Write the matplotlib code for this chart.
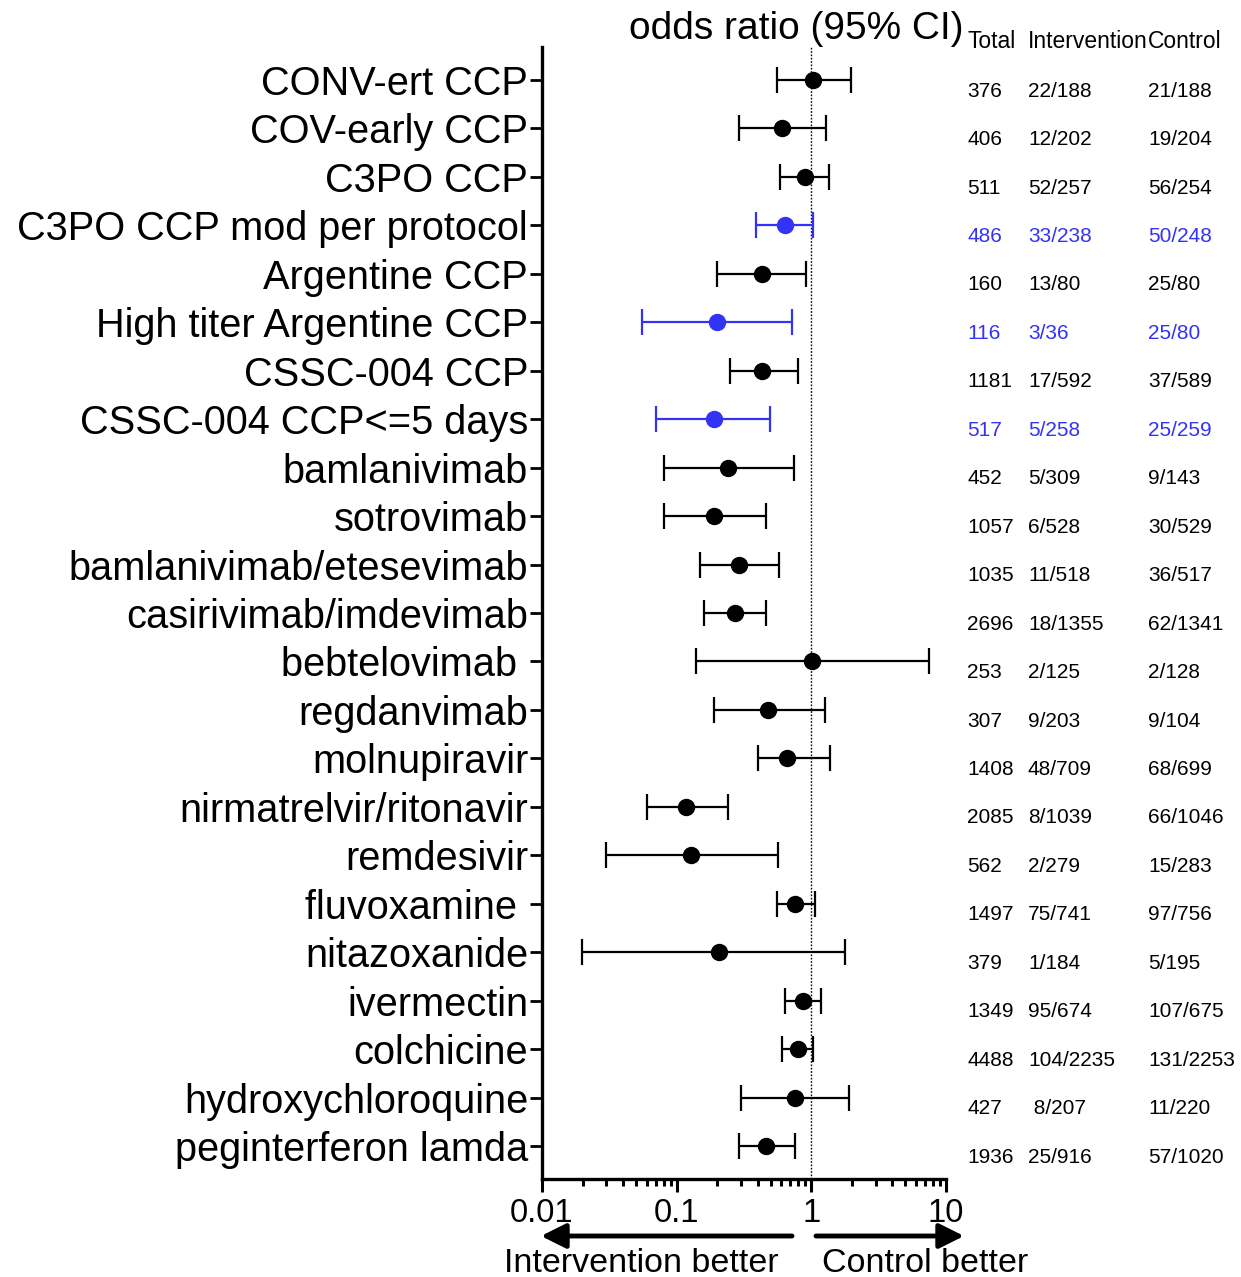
import matplotlib
matplotlib.use("Agg")
import matplotlib.pyplot as plt
import matplotlib.transforms as mtransforms
from matplotlib.ticker import LogLocator, NullFormatter, FixedLocator, FixedFormatter

plt.rcParams['font.family'] = ['Liberation Sans', 'DejaVu Sans']

labels = ["CONV-ert CCP", "COV-early CCP", "C3PO CCP", "C3PO CCP mod per protocol",
          "Argentine CCP", "High titer Argentine CCP", "CSSC-004 CCP", "CSSC-004 CCP<=5 days",
          "bamlanivimab", "sotrovimab", "bamlanivimab/etesevimab", "casirivimab/imdevimab",
          "bebtelovimab ", "regdanvimab", "molnupiravir", "nirmatrelvir/ritonavir",
          "remdesivir", "fluvoxamine ", "nitazoxanide", "ivermectin", "colchicine",
          "hydroxychloroquine", "peginterferon lamda"]
odds = [1.03, 0.61, 0.89, 0.64, 0.43, 0.198, 0.43, 0.188, 0.24, 0.19, 0.29, 0.27,
        1.02, 0.48, 0.66, 0.118, 0.127, 0.76, 0.205, 0.86, 0.79, 0.75, 0.46]
ci_low = [0.56, 0.29, 0.59, 0.385, 0.20, 0.055, 0.247, 0.070, 0.080, 0.080, 0.148, 0.16,
          0.138, 0.188, 0.40, 0.060, 0.030, 0.56, 0.0198, 0.64, 0.61, 0.30, 0.29]
ci_high = [1.98, 1.29, 1.36, 1.03, 0.92, 0.72, 0.79, 0.49, 0.74, 0.46, 0.58, 0.46,
           7.5, 1.27, 1.38, 0.24, 0.57, 1.07, 1.78, 1.17, 1.03, 1.91, 0.76]
totals = ["376", "406", "511", "486", "160", "116", "1181", "517", "452", "1057", "1035",
          "2696", "253", "307", "1408", "2085", "562", "1497", "379", "1349", "4488", "427", "1936"]
intervention = ["22/188", "12/202", "52/257", "33/238", "13/80", "3/36", "17/592", "5/258",
                "5/309", "6/528", "11/518", "18/1355", "2/125", "9/203", "48/709", "8/1039",
                "2/279", "75/741", "1/184", "95/674", "104/2235", " 8/207", "25/916"]
control = ["21/188", "19/204", "56/254", "50/248", "25/80", "25/80", "37/589", "25/259",
           "9/143", "30/529", "36/517", "62/1341", "2/128", "9/104", "68/699", "66/1046",
           "15/283", "97/756", "5/195", "107/675", "131/2253", "11/220", "57/1020"]
highlight = [False, False, False, True, False, True, False, True] + [False] * 15
header = ["Total", "Intervention", "Control"]
xtick_vals = [0.01, 0.1, 1, 10]
xtick_labels = ["0.01", "0.1", "1", "10"]

BLUE = "#3333F6"
W, H = 1241, 1277
fig = plt.figure(figsize=(W / 100, H / 100), dpi=100)
ax = fig.add_axes([542 / W, 1 - 1179 / H, (946 - 542) / W, (1179 - 47) / H])

n = len(labels)
ypos = list(range(n))
for i in range(n):
    c = BLUE if highlight[i] else "black"
    ax.errorbar([odds[i]], [ypos[i]],
                xerr=[[odds[i] - ci_low[i]], [ci_high[i] - odds[i]]],
                fmt='o', color=c, ms=11.5, elinewidth=1.6, capsize=9.5, capthick=1.6,
                zorder=3)

ax.axvline(1, color='black', lw=1.0, ls=(0, (1.2, 1.2)), zorder=1)
ax.set_xscale('log')
ax.set_xlim(0.01, 10)
ax.set_ylim(n - 1 + 0.68, -0.68)

ax.xaxis.set_major_locator(FixedLocator(xtick_vals))
ax.xaxis.set_major_formatter(FixedFormatter(xtick_labels))
ax.xaxis.set_minor_locator(LogLocator(base=10, subs=range(2, 10), numticks=20))
ax.xaxis.set_minor_formatter(NullFormatter())
ax.tick_params(axis='x', which='major', length=9, width=2.2, labelsize=23.5, pad=5)
ax.tick_params(axis='x', which='minor', length=5, width=2.2)

ax.set_yticks(ypos)
ax.set_yticklabels(labels, fontsize=28.6)
ax.tick_params(axis='y', length=9, width=2.0, pad=1)

for s in ['top', 'right']:
    ax.spines[s].set_visible(False)
for s in ['left', 'bottom']:
    ax.spines[s].set_linewidth(2.4)

# title
fig.text(796 / W, 1 - 29 / H, "odds ratio (95% CI)", fontsize=28, ha='center', va='center')

# table
trans = mtransforms.blended_transform_factory(fig.transFigure, ax.transData)
col_x = [967 / W, 1028 / W, 1148 / W]
for j, h in enumerate(header):
    fig.text(col_x[j], 1 - 42 / H, h, fontsize=16.5, ha='left', va='center')
for i in range(n):
    c = BLUE if highlight[i] else "black"
    for j, col in enumerate([totals, intervention, control]):
        ax.text(col_x[j], ypos[i] + 0.23, col[i], transform=trans, fontsize=15,
                color=c, ha='left', va='center', clip_on=False)

# arrows
ya = 1 - 1236 / H
for x0, x1 in [(792, 541), (816, 964)]:
    fig.patches.append(matplotlib.patches.FancyArrowPatch(
        (x0 / W, ya), (x1 / W, ya), transform=fig.transFigure,
        arrowstyle='-|>,head_length=1.5,head_width=0.75', mutation_scale=10,
        lw=3.5, color='black', shrinkA=0, shrinkB=0, capstyle='round'))
fig.text(641 / W, 1 - 1264 / H, "Intervention better", fontsize=24.5, ha='center', va='center')
fig.text(925 / W, 1 - 1264 / H, "Control better", fontsize=24.5, ha='center', va='center')

fig.savefig("out.png", dpi=100)
